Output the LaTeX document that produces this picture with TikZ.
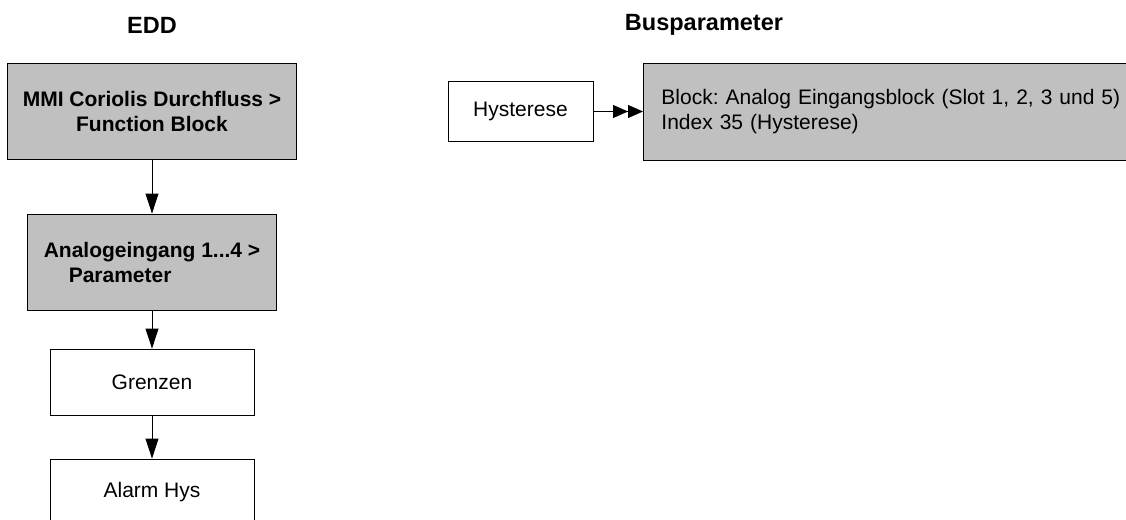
\documentclass[tikz,border=0pt]{standalone}
\usepackage{fontspec}
\setmainfont{Liberation Sans}
\usetikzlibrary{arrows.meta}
\definecolor{boxgray}{HTML}{C0C0C0}
\frenchspacing
\begin{document}
\begin{tikzpicture}[x=1pt,y=-1pt,
  txt/.style={font=\fontsize{21}{25}\selectfont},
  ttl/.style={font=\fontsize{23.5}{27}\selectfont\bfseries},
  box/.style={draw=black,line width=0.9pt,inner sep=0pt,txt},
  graybox/.style={box,fill=boxgray},
  arr/.style={line width=0.9pt,-{Triangle[length=20pt,width=13pt]}},
  darr/.style={line width=0.9pt,-{Triangle[length=15pt,width=13pt,sep=0pt]Triangle[length=15pt,width=13pt]}}]
\useasboundingbox (0,0) rectangle (1126,519);
\clip (0,0) rectangle (1126,519);
\fill[white] (0,0) rectangle (1126,519);
% titles
\node[ttl] (tedd) at (152,25) {EDD};
\node[ttl] (tbus) at (704,25) {Busparameter};
% left column
\node[graybox,minimum width=289pt,minimum height=96pt,align=center,font=\fontsize{21}{25}\selectfont\bfseries]
  (b1) at (152,111) {MMI Coriolis Durchfluss >\\Function Block};
\node[graybox,minimum width=249pt,minimum height=96pt,align=left,font=\fontsize{21}{25}\selectfont\bfseries]
  (b2) at (152,262) {Analogeingang 1...4 >\\\hspace*{25pt}Parameter};
\node[box,minimum width=204pt,minimum height=66pt] (b3) at (152,382) {Grenzen};
\node[box,minimum width=204pt,minimum height=66pt] (b4) at (152,492) {Alarm Hys};
\draw[arr] (b1) -- (b2);
\draw[arr] (b2) -- (b3);
\draw[arr] (b3) -- (b4);
% right
\node[box,minimum width=145pt,minimum height=60pt] (hy) at (520.5,111.5) {Hysterese};
\node[graybox,anchor=west,minimum width=520pt,minimum height=97pt,inner xsep=18pt,text width=484pt,align=left]
  (bk) at (643,111.5) {Block: Analog Eingangsblock (Slot 1, 2, 3 und 5)\\Index 35 (Hysterese)};
\draw[darr] (hy.east) -- (hy.east -| bk.west);
\end{tikzpicture}
\end{document}
